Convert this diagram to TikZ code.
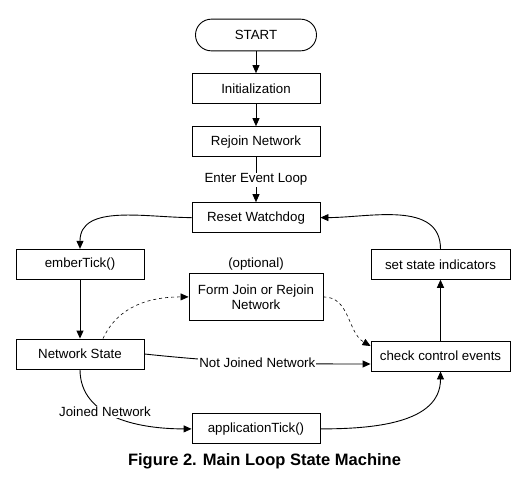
\documentclass[tikz,border=0pt]{standalone}
\usepackage{fontspec}
\setmainfont{Liberation Sans}
\usetikzlibrary{arrows.meta,positioning}
\begin{document}
\begin{tikzpicture}[x=1pt, y=-1pt, font=\fontsize{13.3}{15}\selectfont,
		box/.style={draw, line width=0.9pt, minimum width=128pt, minimum height=30pt, inner sep=2pt, align=center},
		wide/.style={box, minimum width=139pt},
		arr/.style={-{Triangle[length=8pt,width=7pt]}, line width=0.9pt},
		lbl/.style={fill=white, inner sep=1pt}]
		\useasboundingbox (0,0) rectangle (531,485);
		\node[box, minimum width=121pt, minimum height=31.7pt, rounded corners=15.8pt] (start) at (256,35) {START};
		\node[box, below of=start, node distance=53.6pt] 		(init) 		{Initialization};
		\node[box, below of=init, node distance=53pt] 			(rejoin) 	{Rejoin Network};
		\node[box, below of=rejoin, node distance=76pt] 		(reset) 	{Reset Watchdog};
		\node[box, minimum height=47.4pt, minimum width=134pt, below of=reset, node distance=79.3pt] (formJoin) {Form Join or Rejoin\\Network};
		\node[above of=formJoin, node distance=33pt] 			(optional) 	{(optional)};
		\node[box, below of=formJoin, node distance=132pt] 		(appTick) 	{applicationTick()};
		\node[box] 												(ember) at (80,264.3) {emberTick()};
		\node[box, below of=ember, node distance=89.7pt] 		(netState) 	{Network State};
		\node[wide] 											(setInd) at (440.5,264.3) {set state indicators};
		\node[wide, below of=setInd, node distance=91.7pt] 		(check) 	{check control events};
		\node[font=\bfseries\fontsize{16.5}{18}\selectfont] 	(caption) at (264.5,461.7) {Figure 2. Main Loop State Machine};
		
		\draw[arr] (start) -- (init);
		\draw[arr] (init) -- (rejoin);
		\draw[arr] (rejoin) --node[lbl] {Enter Event Loop} (reset);
		\draw[arr] (reset.west) to[out=180, in=90] (ember.north);
		\draw[arr] (ember) -- (netState);
		\draw[arr, dashed, line width=0.6pt] ([xshift=23pt]netState.north) to[out=65, in=180] (formJoin.west);
		\draw[arr, dashed, line width=0.6pt] (formJoin.east) to[out=0, in=150] ([yshift=10pt]check.west);
		\draw[arr] (netState.east) to[out=-6, in=180] node[lbl] {Not Joined Network} ([yshift=-8pt]check.west);
		\draw[arr] (netState.south) to[out=-90, in=180] node[lbl, pos=0.4] {Joined Network} (appTick.west);
		\draw[arr] (appTick.east) to[out=0, in=-90] (check.south);
		\draw[arr] (check) -- (setInd);
		\draw[arr] (setInd.north) to[out=90, in=0] (reset.east);
		\end{tikzpicture}
\end{document}
